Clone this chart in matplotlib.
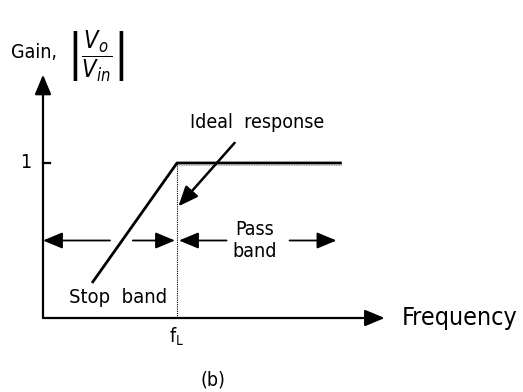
import matplotlib
matplotlib.use("Agg")
import matplotlib.pyplot as plt

# Normalised data: frequency in units of f_L, gain in units of |Vo/Vin|
f_cut = 1.0
freq_response = [0.366, 1.0, 2.23]
gain_response = [0.226, 1.0, 1.0]
x_axis_end = 2.55
y_axis_end = 1.57
band_gain = 0.5

# dashed band arrows: (tail, head)
stop_arrows = [(0.50, 0.0), (0.67, 0.985)]
pass_arrows = [(1.37, 1.015), (1.84, 2.19)]

plt.rcParams["font.family"] = "DejaVu Sans"
plt.rcParams["font.stretch"] = "condensed"

fig = plt.figure(figsize=(5.23, 3.92), dpi=100)
ax = fig.add_axes([0, 0, 1, 1])
ax.set_xlim(-43 / 134, 480 / 134)
ax.set_ylim(-74 / 155, 318 / 155)
ax.axis("off")

head = dict(arrowstyle="-|>,head_length=1.2,head_width=0.5", mutation_scale=10,
            color="black", shrinkA=0, shrinkB=0)

# axes with arrows
ax.annotate("", xy=(x_axis_end, 0), xytext=(0, 0), arrowprops=dict(head, lw=1.6))
ax.annotate("", xy=(0, y_axis_end), xytext=(0, 0), arrowprops=dict(head, lw=1.6))

# tick at gain 1
ax.plot([0, 0.05], [1, 1], color="black", lw=1.6)
ax.text(-0.09, 1, "1", ha="right", va="center", fontsize=14)

# response
ax.plot(freq_response, gain_response, color="black", lw=2.0, solid_capstyle="butt")
ax.plot([f_cut, f_cut], [0, 1], color="black", lw=0.8, linestyle=(0, (1, 1)))
ax.plot([f_cut, freq_response[-1]], [0.985, 0.985], color="gray", lw=0.6, linestyle=(0, (1, 1)))

# band arrows
for tail, tip in stop_arrows + pass_arrows:
    ax.annotate("", xy=(tip, band_gain), xytext=(tail, band_gain),
                arrowprops=dict(head, lw=1.3))

# ideal response pointer
ax.annotate("", xy=(1.01, 0.72), xytext=(1.43, 1.13), arrowprops=dict(head, lw=1.8))

# labels
ax.text(1.6, 1.26, "Ideal  response", ha="center", va="center", fontsize=14)
ax.text(0.56, 0.13, "Stop  band", ha="center", va="center", fontsize=14.5)
ax.text(1.58, 0.5, "Pass\nband", ha="center", va="center", fontsize=14, linespacing=1.15)
ax.text(2.68, 0.0, "Frequency", ha="left", va="center", fontsize=18)
ax.text(f_cut, -0.12, r"f$_{\mathrm{L}}$", ha="center", va="center", fontsize=14)
ax.text(1.27, -0.40, "(b)", ha="center", va="center", fontsize=14)
ax.text(-0.24, 1.71, "Gain,", ha="left", va="center", fontsize=14)
ax.text(0.18, 1.69, r"$\left|\dfrac{V_o}{V_{in}}\right|$", ha="left", va="center", fontsize=17)

fig.savefig("out.png", dpi=100)
